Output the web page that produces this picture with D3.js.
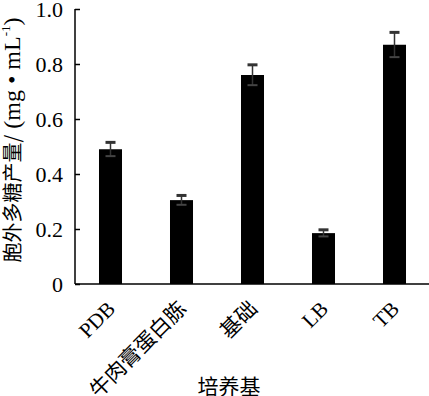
<!DOCTYPE html>
<html>
<head>
<meta charset="utf-8">
<script src="https://cdn.jsdelivr.net/npm/d3@7"></script>
<style>
body { margin: 0; background: #fff; }
</style>
</head>
<body>
<script>
// media and measured EPS yield
var media = ["PDB", "牛肉膏蛋白胨", "基础", "LB", "TB"];
var yields = [0.49, 0.305, 0.76, 0.185, 0.87];
var errs = [0.025, 0.017, 0.037, 0.012, 0.045];
var yTicks = [0, 0.2, 0.4, 0.6, 0.8, 1.0];

var serif = "'Liberation Serif', 'Times New Roman', serif";
var cjk = "'Noto Sans CJK SC', sans-serif";

var W = 429, H = 396;
var svg = d3.select("body").append("svg").attr("width", W).attr("height", H);

var x = d3.scaleBand().domain(media).range([75, 430]).paddingInner(0.676).paddingOuter(0.338);
var y = d3.scaleLinear().domain([0, 1]).range([284, 9]);

// bars
svg.selectAll("rect.bar").data(media).enter().append("rect")
    .attr("class", "bar")
    .attr("x", function(d) { return x(d); })
    .attr("width", x.bandwidth())
    .attr("y", function(d, i) { return y(yields[i]); })
    .attr("height", function(d, i) { return y(0) - y(yields[i]); })
    .attr("fill", "#000");

// error bars
var cx = function(d) { return x(d) + x.bandwidth() / 2; };
var eb = svg.selectAll("g.err").data(media).enter().append("g").attr("class", "err")
    .attr("stroke", "#333");
eb.append("line")
    .attr("x1", cx).attr("x2", cx)
    .attr("y1", function(d, i) { return y(yields[i] - errs[i]); })
    .attr("y2", function(d, i) { return y(yields[i] + errs[i]); })
    .attr("stroke-width", 1.5);
eb.append("line")
    .attr("x1", function(d) { return cx(d) - 5; })
    .attr("x2", function(d) { return cx(d) + 5; })
    .attr("y1", function(d, i) { return y(yields[i] + errs[i]); })
    .attr("y2", function(d, i) { return y(yields[i] + errs[i]); })
    .attr("stroke-width", 3);
eb.append("line")
    .attr("x1", function(d) { return cx(d) - 5; })
    .attr("x2", function(d) { return cx(d) + 5; })
    .attr("y1", function(d, i) { return y(yields[i] - errs[i]); })
    .attr("y2", function(d, i) { return y(yields[i] - errs[i]); })
    .attr("stroke", "#444")
    .attr("stroke-width", 2);

// y axis
var ya = svg.append("g")
    .attr("transform", "translate(75,0)")
    .call(d3.axisLeft(y).tickValues(yTicks).tickSize(-5).tickPadding(12)
        .tickFormat(function(d) { return d === 0 ? "0" : d3.format(".1f")(d); }));
ya.attr("font-family", null).attr("font-size", null);
ya.select(".domain").attr("d", "M0," + y(1) + "V" + y(0)).attr("stroke-width", 1.5);
ya.selectAll(".tick line").attr("stroke-width", 1.5);
ya.selectAll(".tick text")
    .attr("font-family", "Liberation Serif")
    .attr("font-size", 22)
    .attr("fill", "#000");

// x axis
var xa = svg.append("g")
    .attr("transform", "translate(0," + y(0) + ")")
    .call(d3.axisBottom(x).tickSize(0).tickPadding(0));
xa.select(".domain").attr("d", "M75,0H429").attr("stroke-width", 1.5);
xa.selectAll(".tick text")
    .attr("text-anchor", "end")
    .attr("dy", 0)
    .attr("fill", "#000")
    .attr("transform", "translate(6,26) rotate(-45)")
    .style("font-family", function(d) { return /[A-Z]/.test(d) ? serif : cjk; })
    .style("font-size", "21px");

// axis titles
svg.append("text")
    .attr("transform", "translate(20,140) rotate(-90)")
    .attr("text-anchor", "middle")
    .html('<tspan style="font-family:' + cjk.replace(/'/g, "&quot;") + '" font-size="20px">胞外多糖产量/</tspan>' +
          '<tspan style="font-family:' + serif.replace(/'/g, "&quot;") + '" font-size="24px"> (mg • mL</tspan>' +
          '<tspan style="font-family:' + serif.replace(/'/g, "&quot;") + '" font-size="13px" dy="-10">-1</tspan>' +
          '<tspan style="font-family:' + serif.replace(/'/g, "&quot;") + '" font-size="24px" dy="10">)</tspan>');

svg.append("text")
    .attr("x", 229).attr("y", 394)
    .attr("text-anchor", "middle")
    .style("font-family", cjk)
    .style("font-size", "21px")
    .text("培养基");
</script>
</body>
</html>
